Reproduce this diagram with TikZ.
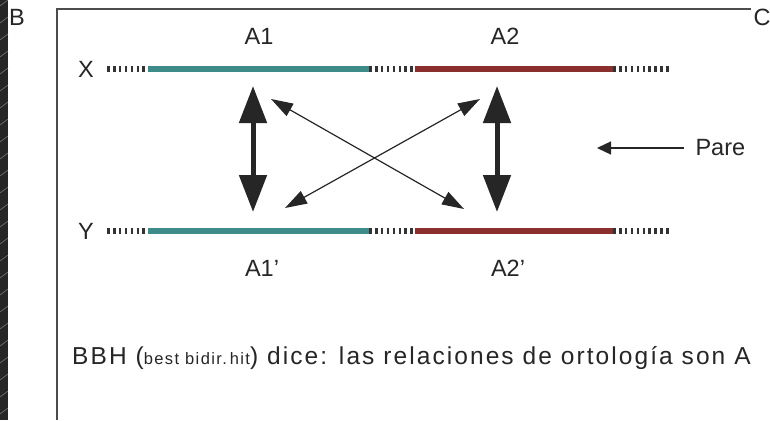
\documentclass[tikz,border=0pt]{standalone}
\usepackage{fontspec}
\setmainfont{Liberation Sans}
\newfontfamily\widesans{Liberation Sans}[LetterSpace=8.5]
\usetikzlibrary{arrows.meta}
\definecolor{gentea}{RGB}{62,140,138}
\definecolor{genred}{RGB}{138,46,46}
\definecolor{strip}{RGB}{38,38,38}

\tikzset{
  lbl/.style={font=\fontsize{23.5}{26}\selectfont, text=black!85},
  gene/.style={line width=6pt},
  spacer/.style={line width=6pt, black!80, dash pattern=on 2.6pt off 3.3pt},
  orto/.style={line width=5pt, black!85,
    {Triangle[width=27pt,length=37pt]}-{Triangle[width=27pt,length=37pt]}},
  cruz/.style={line width=1.2pt, black!85,
    {Triangle[width=14pt,length=22pt]}-{Triangle[width=14pt,length=22pt]}}
}

\begin{document}
\begin{tikzpicture}[x=1pt,y=-1pt]
\useasboundingbox (0,0) rectangle (770,420);
\fill[white] (0,0) rectangle (770,420);

% dark strip on the left
\fill[strip] (0,0) rectangle (8,420);
\foreach \s in {0,17,...,420}{
  \draw[black!55, line width=0.6pt] (0,\s+6) -- (8,\s);
}

% frame
\draw[line width=1.3pt, black!70] (57,420) -- (57,9) -- (751,9);
\node[lbl] (panB) at (17,17) {B};
\node[lbl] (panC) at (762,17) {C};

% the two sequences
\foreach \r/\h in {x/69,y/231}{
  \coordinate (\r0) at (107,\h);
  \coordinate (\r1) at (148,\h);
  \coordinate (\r2) at (369,\h);
  \coordinate (\r3) at (415,\h);
  \coordinate (\r4) at (613,\h);
  \coordinate (\r5) at (671,\h);
  \draw[spacer] (\r0) -- (\r1);
  \draw[gene, gentea] (\r1) -- (\r2);
  \draw[spacer] (\r2) -- (\r3);
  \draw[gene, genred] (\r3) -- (\r4);
  \draw[spacer] (\r4) -- (\r5);
}
\node[lbl] (seqX) at (86,69) {X};
\node[lbl] (seqY) at (86,231) {Y};
\node[lbl] (a1) at (259,36) {A1};
\node[lbl] (a2) at (505,36) {A2};
\node[lbl] (a1p) at (262,268) {A1’};
\node[lbl] (a2p) at (508,268) {A2’};

% best hits between both genomes
\coordinate (o1t) at (253,86);
\coordinate (o1b) at (253,212);
\coordinate (o2t) at (497,86);
\coordinate (o2b) at (497,212);
\draw[orto] (o1t) -- (o1b);
\draw[orto] (o2t) -- (o2b);

\coordinate (c1a) at (271,99);
\coordinate (c1b) at (464,209);
\coordinate (c2a) at (285,208);
\coordinate (c2b) at (480,99);
\draw[cruz] (c1a) -- (c1b);
\draw[cruz] (c2a) -- (c2b);

% label for the pair
\node[lbl, anchor=west] (pare) at (692,148) {Pare};
\coordinate (pt) at (597,148);
\draw[line width=1.3pt, black!85, -{Triangle[width=13pt,length=14pt]}] ([xshift=-8pt]pare.west) -- (pt);

\node[font=\widesans\fontsize{24.5}{28}\selectfont, text=black!85, anchor=west, inner sep=0pt] (bbh) at (72,358)
  {BBH ({\fontsize{16.5}{18}\selectfont best bidir.\,hit}) dice: las relaciones de ortología son A};
\end{tikzpicture}
\end{document}
